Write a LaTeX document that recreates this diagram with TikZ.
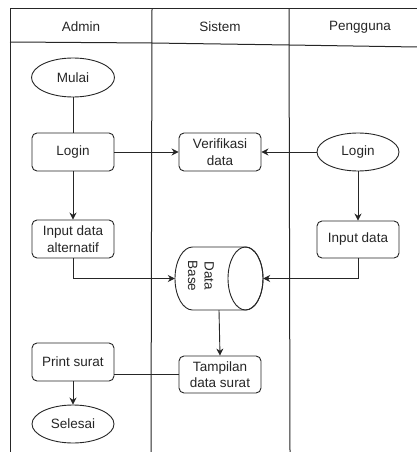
\documentclass[tikz,border=0pt]{standalone}
\usepackage{fontspec}
\setmainfont{Liberation Sans}
\usetikzlibrary{shapes.geometric,arrows.meta}
\begin{document}
\begin{tikzpicture}[x=1pt,y=-1pt,
  every node/.style={font=\fontsize{13.5}{16.5}\selectfont, text=black!85},
  lane/.style={draw=black!85, line width=1pt},
  procbox/.style={draw=black!85, line width=0.9pt, rounded corners=5pt, fill=white,
    minimum width=82pt, minimum height=38pt, inner sep=1pt, align=center},
  termbox/.style={draw=black!85, line width=0.9pt, ellipse, fill=white,
    minimum width=82pt, minimum height=38pt, inner sep=0pt, align=center},
  conn/.style={draw=black!85, line width=0.9pt},
  arr/.style={conn, -{Stealth[length=7pt,width=7pt]}}]
\useasboundingbox (0,0) rectangle (417,452);
% swimlanes
\draw[lane] (417,9) -- (10,9) -- (10,452);
\draw[lane] (152,9) -- (151,452);
\draw[lane] (289,9) -- (290,452);
\draw[lane] (10,42) -- (152,43) -- (289,45) -- (417,47);
\node (hadmin) at (81,27) {Admin};
\node (hsistem) at (220,27) {Sistem};
\node (hpeng) at (360,27) {Pengguna};
% nodes
\node[termbox, minimum width=83pt, minimum height=39pt] (mulai) at (73,77.5) {Mulai};
\node[procbox] (login1) at (73,152) {Login};
\node[procbox] (verif) at (220,152) {Verifikasi\\data};
\node[termbox] (login2) at (358,152) {Login};
\node[procbox] (inalt) at (73,239) {Input data\\alternatif};
\node[procbox, minimum height=37pt] (indata) at (358,239.5) {Input data};
\node[minimum width=88pt, minimum height=63pt, inner sep=0pt] (db) at (219,278.5) {};
\draw[conn, fill=white] (192.5,247) -- (245.5,247)
   arc[start angle=-90, end angle=90, x radius=17.5pt, y radius=-31.5pt]
   -- (192.5,310)
   arc[start angle=90, end angle=270, x radius=17.5pt, y radius=-31.5pt] -- cycle;
\draw[conn] (245.5,278.5) ellipse[x radius=17.5pt, y radius=31.5pt];
\node[rotate=-90, align=center, inner sep=0pt] (dbtext) at (201,276) {Data\\Base};
\node[procbox, minimum height=37pt] (tampil) at (220,374.5) {Tampilan\\data surat};
\node[procbox] (print) at (73,362) {Print surat};
\node[termbox] (selesai) at (73,424) {Selesai};
% connectors
\draw[conn] (mulai) -- (login1);
\draw[arr] (login1) -- (verif);
\draw[arr] (login2) -- (verif);
\draw[arr] (login1) -- (inalt);
\draw[arr] (login2) -- (indata);
\draw[arr] (inalt.south) |- (db.west);
\draw[arr] (indata.south) |- (db.east);
\draw[arr] (db.south) -- (tampil.north);
\draw[conn] (tampil.west) -- (tampil.west -| print.east);
\draw[arr] (print) -- (selesai);
\end{tikzpicture}
\end{document}
